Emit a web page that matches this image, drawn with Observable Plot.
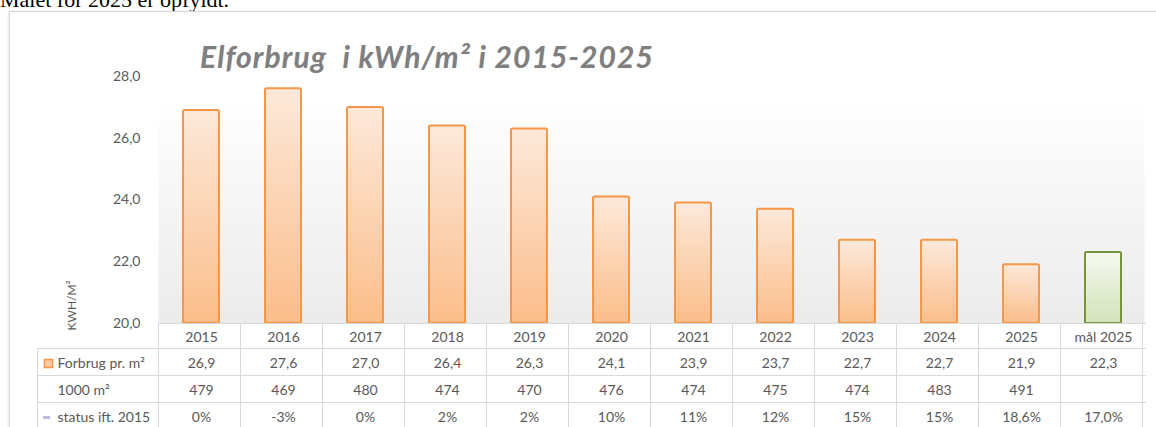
<!DOCTYPE html>
<html><head><meta charset="utf-8">
<script src="https://cdn.jsdelivr.net/npm/d3@7"></script>
<script src="https://cdn.jsdelivr.net/npm/@observablehq/plot@0.6"></script>
<style>
html,body{margin:0;padding:0;background:#fff;width:1156px;height:427px;overflow:hidden;position:relative}
#note{position:absolute;left:0;top:-11px;font-family:"Liberation Serif","Times New Roman",serif;font-size:22px;line-height:22px;color:#000;white-space:nowrap}
#frame{position:absolute;left:9px;top:11px;width:1170px;height:440px;border:1px solid #d6d6d6;box-shadow:0 1px 3px rgba(0,0,0,.16);background:#fff}
#chart{position:absolute;left:0;top:0}
#title{position:absolute;left:200px;top:41px;font-family:Lato,sans-serif;font-weight:bold;font-style:italic;font-size:30px;line-height:30px;letter-spacing:1.1px;color:#7f7f7f;white-space:nowrap;text-shadow:0 0 1px rgba(0,0,0,.15)}
</style></head>
<body>
<div id="note">Målet for 2025 er opfyldt.</div>
<div id="frame"></div>
<div id="chart"></div>
<div id="title">Elforbrug&nbsp; i kWh/m² i 2015-2025</div>
<script>
const categories = ["2015","2016","2017","2018","2019","2020","2021","2022","2023","2024","2025","mål 2025"];
const consumption = [26.9,27.6,27.0,26.4,26.3,24.1,23.9,23.7,22.7,22.7,21.9,22.3];
const area1000 = ["479","469","480","474","470","476","474","475","474","483","491",""];
const statusVs2015 = ["0%","-3%","0%","2%","2%","10%","11%","12%","15%","15%","18,6%","17,0%"];
const rowLabels = ["Forbrug pr. m²","1000 m²","status ift. 2015"];
const yTicks = [20,22,24,26,28];
const yLabel = "KWH/M²";

const fmt = v => v.toFixed(1).replace(".", ",");
const data = categories.map((c,i) => ({cat:c, value:consumption[i], goal:c.startsWith("mål")}));
const txt = {fill:"#595959", fontSize:14, lineAnchor:"middle"};

const plot = Plot.plot({
  width:1156, height:427,
  marginLeft:158, marginRight:10, marginTop:76, marginBottom:104,
  style:{fontFamily:"Lato, sans-serif", fontSize:"14px", color:"#595959", background:"transparent", overflow:"visible"},
  x:{domain:categories, paddingInner:0.56, paddingOuter:0.28, axis:null},
  y:{domain:[20,28], axis:null},
  marks:[
    Plot.frame({fill:"url(#bgGrad)", stroke:"none", insetTop:29, insetRight:2}),
    Plot.axisY({ticks:yTicks, tickFormat:fmt, tickSize:0, tickPadding:18, label:null}),
    Plot.text([yLabel], {text:d=>d, frameAnchor:"bottom-left", rotate:-90, textAnchor:"start", dx:-83, dy:7, fill:"#595959", fontSize:12}),
    Plot.barY(data.filter(d=>!d.goal), {x:"cat", y1:20, y2:"value", fill:"url(#orangeGrad)", stroke:"#f79646", strokeWidth:2, rx:1.5}),
    Plot.barY(data.filter(d=>d.goal), {x:"cat", y1:20, y2:"value", fill:"url(#greenGrad)", stroke:"#77933c", strokeWidth:2, rx:1.5}),
    Plot.text(categories, {x:d=>d, text:d=>d, frameAnchor:"bottom", dy:14, ...txt}),
    Plot.text(data, {x:"cat", text:d=>fmt(d.value), frameAnchor:"bottom", dy:40, ...txt}),
    Plot.text(categories, {x:d=>d, text:(d,i)=>area1000[i], frameAnchor:"bottom", dy:67, ...txt}),
    Plot.text(categories, {x:d=>d, text:(d,i)=>statusVs2015[i], frameAnchor:"bottom", dy:94, ...txt}),
    Plot.text([rowLabels[0]], {text:d=>d, frameAnchor:"bottom-left", dx:-101, dy:40, textAnchor:"start", ...txt}),
    Plot.text([rowLabels[1]], {text:d=>d, frameAnchor:"bottom-left", dx:-101, dy:67, textAnchor:"start", ...txt}),
    Plot.text([rowLabels[2]], {text:d=>d, frameAnchor:"bottom-left", dx:-101, dy:94, textAnchor:"start", ...txt}),
    Plot.dot([rowLabels[0]], {frameAnchor:"bottom-left", dx:-110, dy:40, symbol:"square", r:4.6, fill:"#fbcba3", stroke:"#f79646", strokeWidth:1.5}),
    Plot.dot([rowLabels[2]], {frameAnchor:"bottom-left", dx:-112, dy:94, r:4, fill:"#c3b6dc",
      symbol:{draw(ctx){ctx.moveTo(-3.5,-1.5);ctx.lineTo(3.5,-1.5);ctx.lineTo(3.5,1.5);ctx.lineTo(-3.5,1.5);ctx.closePath();}}})
  ]
});

const svgEl = plot.tagName.toLowerCase() === "svg" ? plot : plot.querySelector("svg");
const svg = d3.select(svgEl);
const defs = svg.insert("defs", ":first-child");
function grad(id, stops){
  const g = defs.append("linearGradient").attr("id", id).attr("x1",0).attr("y1",0).attr("x2",0).attr("y2",1);
  stops.forEach(([o,c]) => g.append("stop").attr("offset", o).attr("stop-color", c));
}
grad("bgGrad", [[0,"#fefefe"],[1,"#ebebeb"]]);
grad("orangeGrad", [[0,"#fde9da"],[1,"#fbbd8a"]]);
grad("greenGrad", [[0,"#f5f9f0"],[1,"#d2e2b9"]]);

// table grid, positioned from the plot's own scales
const xs = plot.scale("x"), ys = plot.scale("y");
const left = xs.range[0], right = xs.range[1];
const step = xs.apply(categories[1]) - xs.apply(categories[0]);
const base = ys.apply(20);
const rowOffsets = [25, 52, 79];
const labelLeft = left - 121;
const grid = svg.append("g").attr("stroke", "#d9d9d9").attr("stroke-width", 1).attr("fill", "none");
const r = v => Math.round(v) + 0.5;
grid.append("line").attr("x1", left).attr("x2", right).attr("y1", r(base)).attr("y2", r(base));
rowOffsets.forEach(o => grid.append("line").attr("x1", labelLeft).attr("x2", right).attr("y1", r(base+o)).attr("y2", r(base+o)));
for (let i = 0; i <= categories.length; i++) {
  const x = r(left + i*step);
  grid.append("line").attr("x1", x).attr("x2", x).attr("y1", base).attr("y2", 427);
}
grid.append("line").attr("x1", r(labelLeft)).attr("x2", r(labelLeft)).attr("y1", base + rowOffsets[0]).attr("y2", 427);

document.getElementById("chart").appendChild(plot);
</script>
</body></html>
